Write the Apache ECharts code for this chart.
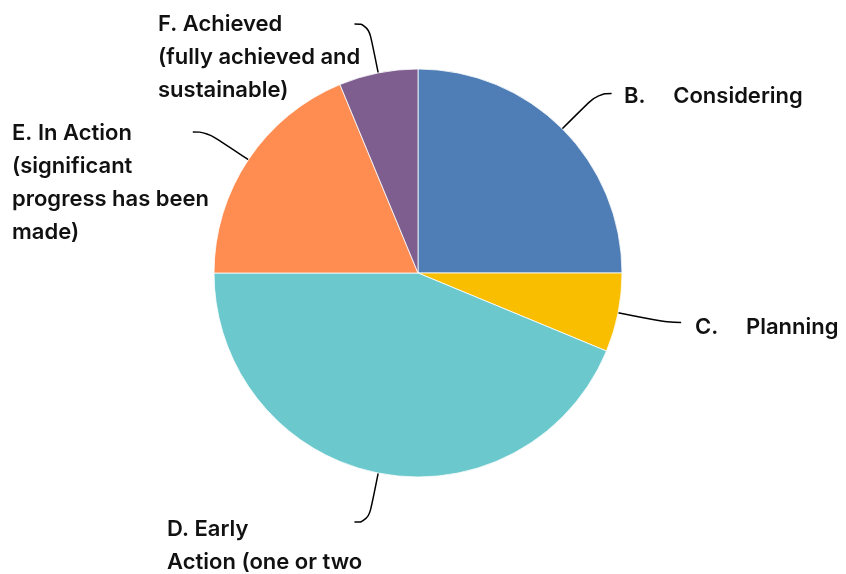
<!DOCTYPE html>
<html><head><meta charset="utf-8">
<script src="https://cdn.jsdelivr.net/npm/echarts@6/dist/echarts.min.js"></script>
<style>html,body{margin:0;padding:0;background:#fff}#c{width:846px;height:574px}</style>
</head><body><div id="c"></div>
<script>
// Categories (slice labels), clockwise from 12 o'clock
const categories = [
  'B.     Considering',
  'C.     Planning',
  'D. Early\nAction (one or two',
  'E. In Action\n(significant\nprogress has been\nmade)',
  'F. Achieved\n(fully achieved and\nsustainable)'
];
// Slice values
const values = [4, 1, 7, 3, 1];
// Slice colours
const colors = ['#4F7DB5', '#F9BE00', '#6BC8CC', '#FF8C50', '#7D5E8E'];
// Label block top-left positions (layout only)
const labelPos = [[624, 80], [695, 311], [167, 513], [12, 117], [158, 8]];

const chart = echarts.init(document.getElementById('c'), null, {renderer: 'canvas'});
chart.setOption({
  animation: false,
  backgroundColor: '#ffffff',
  series: [{
    type: 'pie',
    center: [418, 273],
    radius: 204,
    startAngle: 90,
    clockwise: true,
    avoidLabelOverlap: false,
    itemStyle: {borderColor: '#ffffff', borderWidth: 0.8},
    label: {
      show: true,
      position: 'outside',
      formatter: '{b}',
      color: '#111111',
      fontFamily: 'Inter',
      fontWeight: 600,
      fontSize: 22,
      lineHeight: 33,
      width: 250,
      overflow: 'none',
      distanceToLabelLine: 0
    },
    labelLine: {
      show: true,
      length: 50,
      length2: 14,
      smooth: 0.5,
      lineStyle: {color: '#000000', width: 1.5}
    },
    labelLayout: function (p) {
      const pos = labelPos[p.dataIndex];
      return {
        x: pos[0], y: pos[1],
        align: 'left', verticalAlign: 'top',
        labelLinePoints: p.labelLinePoints
      };
    },
    data: categories.map((c, i) => ({
      name: c, value: values[i], itemStyle: {color: colors[i]}
    }))
  }]
});
</script></body></html>
